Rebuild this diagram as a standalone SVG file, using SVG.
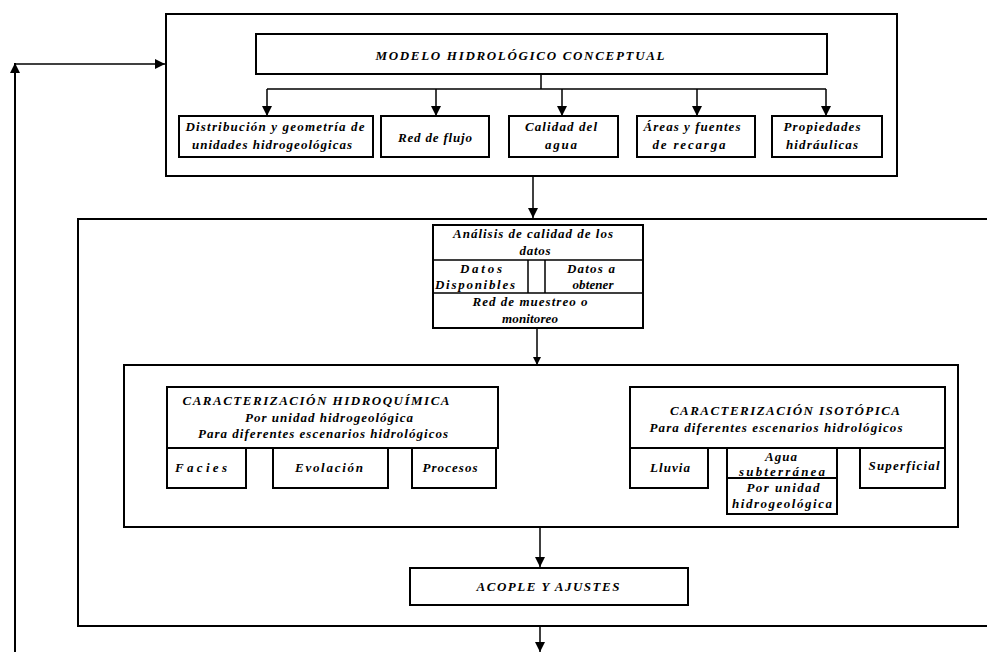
<svg xmlns="http://www.w3.org/2000/svg" width="987" height="652" viewBox="0 0 987 652">
<defs>
<marker id="ah" viewBox="0 0 10 10" refX="10" refY="5" markerWidth="10" markerHeight="10" markerUnits="userSpaceOnUse" orient="auto">
<path d="M0,0 L10,5 L0,10 z" fill="#000"/>
</marker>
<marker id="ahs" viewBox="0 0 10 10" refX="10" refY="5" markerWidth="8" markerHeight="8" markerUnits="userSpaceOnUse" orient="auto">
<path d="M0,0 L10,5 L0,10 z" fill="#000"/>
</marker>
</defs>
<style>
.b{fill:#fff;stroke:#000;stroke-width:2}
.f{fill:none;stroke:#000;stroke-width:2}
.c{fill:none;stroke:#000;stroke-width:1.5}
text{font-family:"Liberation Serif","Times New Roman",serif;font-weight:bold;font-style:italic;font-size:13px;fill:#000;text-anchor:middle}
</style>
<rect width="987" height="652" fill="#fff"/>
<g id="frame-modelo"><rect class="f" x="166" y="14" width="731" height="162"/></g>
<g id="frame-analisis"><rect class="f" x="78" y="219" width="912" height="407"/></g>
<g id="frame-caracterizacion"><rect class="f" x="124" y="365" width="834" height="162"/></g>
<g id="connectors">
<path class="c" d="M541,74 V89 M267,89 H826"/>
<path class="c" d="M267,89 V116" marker-end="url(#ah)"/>
<path class="c" d="M436,89 V116" marker-end="url(#ah)"/>
<path class="c" d="M562,89 V116" marker-end="url(#ah)"/>
<path class="c" d="M697,89 V116" marker-end="url(#ah)"/>
<path class="c" d="M826,89 V116" marker-end="url(#ah)"/>
<path class="c" d="M533,177 V218" marker-end="url(#ah)"/>
<path class="c" d="M537,329 V365" marker-end="url(#ahs)"/>
<path class="c" d="M540,528 V567" marker-end="url(#ah)"/>
<path class="c" d="M540,627 V652" marker-end="url(#ah)"/>
<path class="f" d="M15,652 V63" marker-end="url(#ah)"/>
<path class="c" d="M15,64 H165" marker-end="url(#ah)"/>
</g>
<g id="modelo"><rect class="b" x="256" y="34" width="571" height="40"/><text x="520" y="60" textLength="289" lengthAdjust="spacing">MODELO HIDROLÓGICO CONCEPTUAL</text></g>
<g id="distribucion"><rect class="b" x="179" y="116" width="194" height="41"/><text x="275" y="131" textLength="179" lengthAdjust="spacing">Distribución y geometría de</text><text x="272" y="149" textLength="160" lengthAdjust="spacing">unidades hidrogeológicas</text></g>
<g id="red-flujo"><rect class="b" x="381" y="116" width="108" height="41"/><text x="435" y="142" textLength="74" lengthAdjust="spacing">Red de flujo</text></g>
<g id="calidad"><rect class="b" x="509" y="116" width="109" height="41"/><text x="561" y="131" textLength="72" lengthAdjust="spacing">Calidad del</text><text x="561" y="149" textLength="32" lengthAdjust="spacing">agua</text></g>
<g id="areas"><rect class="b" x="637" y="116" width="118" height="41"/><text x="692" y="131" textLength="97" lengthAdjust="spacing">Áreas y fuentes</text><text x="689" y="149" textLength="73" lengthAdjust="spacing">de recarga</text></g>
<g id="propiedades"><rect class="b" x="772" y="116" width="110" height="41"/><text x="822" y="131" textLength="77" lengthAdjust="spacing">Propiedades</text><text x="822" y="149" textLength="72" lengthAdjust="spacing">hidráulicas</text></g>
<g id="analisis">
<rect class="b" x="433" y="225" width="210" height="103"/>
<path class="c" d="M433,260 H643 M433,293 H643 M528,260 V293 M545,260 V293"/>
<text x="533" y="238" textLength="160" lengthAdjust="spacing">Análisis de calidad de los</text>
<text x="535" y="255" textLength="31" lengthAdjust="spacing">datos</text>
<text x="481" y="273" textLength="42" lengthAdjust="spacing">Datos</text>
<text x="475" y="289" textLength="80" lengthAdjust="spacing">Disponibles</text>
<text x="591" y="273" textLength="48" lengthAdjust="spacing">Datos a</text>
<text x="593" y="289" textLength="41" lengthAdjust="spacing">obtener</text>
<text x="530" y="306" textLength="115" lengthAdjust="spacing">Red de muestreo o</text>
<text x="530" y="323" textLength="56" lengthAdjust="spacing">monitoreo</text>
</g>
<g id="hidroquimica">
<rect class="b" x="167" y="387" width="331" height="61"/>
<text x="316" y="405" textLength="267" lengthAdjust="spacing">CARACTERIZACIÓN HIDROQUÍMICA</text>
<text x="329" y="422" textLength="168" lengthAdjust="spacing">Por unidad hidrogeológica</text>
<text x="323" y="438" textLength="250" lengthAdjust="spacing">Para diferentes escenarios hidrológicos</text>
</g>
<g id="facies"><rect class="b" x="167" y="448" width="79" height="40"/><text x="201" y="472" textLength="52" lengthAdjust="spacing">Facies</text></g>
<g id="evolacion"><rect class="b" x="273" y="448" width="115" height="40"/><text x="329" y="472" textLength="68" lengthAdjust="spacing">Evolación</text></g>
<g id="procesos"><rect class="b" x="412" y="448" width="84" height="40"/><text x="450" y="472" textLength="55" lengthAdjust="spacing">Procesos</text></g>
<g id="isotopica">
<rect class="b" x="630" y="387" width="315" height="61"/>
<text x="785" y="415" textLength="230" lengthAdjust="spacing">CARACTERIZACIÓN ISOTÓPICA</text>
<text x="776" y="432" textLength="253" lengthAdjust="spacing">Para diferentes escenarios hidrológicos</text>
</g>
<g id="lluvia"><rect class="b" x="630" y="448" width="78" height="40"/><text x="670" y="472" textLength="40" lengthAdjust="spacing">Lluvia</text></g>
<g id="agua-subterranea"><rect class="b" x="727" y="448" width="110" height="30"/><text x="781" y="461" textLength="32" lengthAdjust="spacing">Agua</text><text x="782" y="476" textLength="86" lengthAdjust="spacing">subterránea</text></g>
<g id="por-unidad"><rect class="b" x="727" y="478" width="110" height="36"/><text x="783" y="492" textLength="73" lengthAdjust="spacing">Por unidad</text><text x="782" y="508" textLength="100" lengthAdjust="spacing">hidrogeológica</text></g>
<g id="superficial"><rect class="b" x="860" y="448" width="85" height="40"/><text x="904" y="470" textLength="71" lengthAdjust="spacing">Superficial</text></g>
<g id="acople"><rect class="b" x="410" y="568" width="278" height="37"/><text x="548" y="591" textLength="143" lengthAdjust="spacing">ACOPLE Y AJUSTES</text></g>
</svg>
